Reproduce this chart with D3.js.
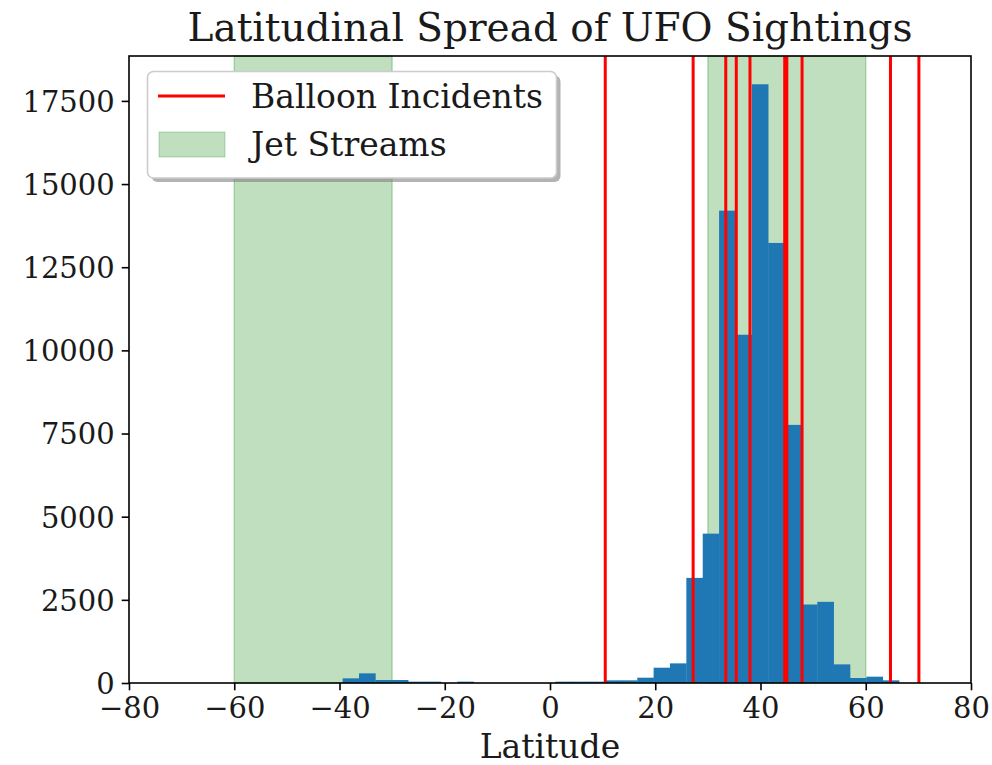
<!DOCTYPE html>
<html>
<head>
<meta charset="utf-8">
<script src="https://cdn.jsdelivr.net/npm/d3@7"></script>
<style>
  body { margin: 0; background: #fff; }
  svg text { font-family: "DejaVu Serif", serif; fill: #1a1a1a; }
</style>
</head>
<body>
<svg id="chart"></svg>
<script>
// histogram bin edges (latitude) and counts per bin
const binEdges = [-39.4, -36.29, -33.18, -30.07, -26.96, -23.85, -20.74, -17.63, -14.52, -11.41,
    -8.3, -5.19, -2.08, 1.03, 4.14, 7.25, 10.36, 13.47, 16.58, 19.69,
    22.8, 25.91, 29.02, 32.13, 35.24, 38.35, 41.46, 44.57, 47.68, 50.79,
    53.9, 57.01, 60.12, 63.23, 66.34];
const counts = [140, 290, 90, 90, 40, 40, 0, 40, 0, 0,
    0, 0, 0, 40, 40, 40, 80, 80, 160, 460,
    590, 3160, 4490, 14200, 10470, 18000, 13230, 7760, 2360, 2440,
    560, 150, 190, 80];
const balloonLat = [10.5, 27.2, 33.4, 35.4, 38.0, 44.6, 45.0, 47.9, 64.7, 70.1];
const jetStreams = [[-60, -30], [30, 60]];
const xTicks = [-80, -60, -40, -20, 0, 20, 40, 60, 80];
const yTicks = [0, 2500, 5000, 7500, 10000, 12500, 15000, 17500];

const width = 992;
const height = 765;
const margin = { left: 129, right: 21, top: 56, bottom: 82 };

const svg = d3.select("#chart")
    .attr("width", width)
    .attr("height", height);

const x = d3.scaleLinear().domain([-80, 80]).range([margin.left, width - margin.right]);
const y = d3.scaleLinear().domain([0, 18850]).range([height - margin.bottom, margin.top]);

const fmt = v => String(v).replace("-", "\u2212");

// jet stream bands
svg.append("g")
    .selectAll("rect")
    .data(jetStreams)
    .enter()
    .append("rect")
    .attr("x", d => x(d[0]))
    .attr("y", margin.top)
    .attr("width", d => x(d[1]) - x(d[0]))
    .attr("height", y(0) - margin.top)
    .attr("fill", "green")
    .attr("fill-opacity", 0.25)
    .attr("stroke", "green")
    .attr("stroke-opacity", 0.25)
    .attr("stroke-width", 1.5);

// histogram bars
const bins = counts.map((c, i) => ({ x0: binEdges[i], x1: binEdges[i + 1], count: c }));
svg.append("g")
    .selectAll("rect")
    .data(bins.filter(b => b.count > 0))
    .enter()
    .append("rect")
    .attr("x", d => x(d.x0))
    .attr("y", d => y(d.count))
    .attr("width", d => x(d.x1) - x(d.x0) + 0.3)
    .attr("height", d => y(0) - y(d.count))
    .attr("fill", "#1f77b4");

// balloon incidents
svg.append("g")
    .selectAll("line")
    .data(balloonLat)
    .enter()
    .append("line")
    .attr("x1", d => x(d))
    .attr("x2", d => x(d))
    .attr("y1", margin.top)
    .attr("y2", y(0))
    .attr("stroke", "red")
    .attr("stroke-width", 3);

// axes
const xAxis = svg.append("g")
    .attr("transform", `translate(0,${y(0)})`)
    .call(d3.axisBottom(x).tickValues(xTicks).tickFormat(fmt).tickSizeOuter(0).tickSize(7.3).tickPadding(6));
const yAxis = svg.append("g")
    .attr("transform", `translate(${margin.left},0)`)
    .call(d3.axisLeft(y).tickValues(yTicks).tickFormat(d => d).tickSizeOuter(0).tickSize(7.3).tickPadding(7));

[xAxis, yAxis].forEach(a => {
    a.select(".domain").remove();
    a.selectAll("line").attr("stroke", "#000").attr("stroke-width", 1.6);
    a.selectAll("text")
        .attr("font-size", 29)
        .attr("fill", "#1a1a1a")
        .style("font-family", "DejaVu Serif");
});
yAxis.selectAll("text").attr("dy", "0.36em");
xAxis.selectAll("text").attr("dy", "0.76em");

// frame
svg.append("rect")
    .attr("x", margin.left)
    .attr("y", margin.top)
    .attr("width", width - margin.right - margin.left)
    .attr("height", y(0) - margin.top)
    .attr("fill", "none")
    .attr("stroke", "#000")
    .attr("stroke-width", 1.6);

// title and label
svg.append("text")
    .attr("x", (margin.left + width - margin.right) / 2)
    .attr("y", 41)
    .attr("text-anchor", "middle")
    .attr("font-size", 39)
    .text("Latitudinal Spread of UFO Sightings");

svg.append("text")
    .attr("x", (margin.left + width - margin.right) / 2)
    .attr("y", 758)
    .attr("text-anchor", "middle")
    .attr("font-size", 33)
    .text("Latitude");

// legend
const lg = svg.append("g");
lg.append("rect")
    .attr("x", 151.5).attr("y", 75.5)
    .attr("width", 409).attr("height", 106.5)
    .attr("rx", 6)
    .attr("fill", "#808080")
    .attr("fill-opacity", 0.6);
lg.append("rect")
    .attr("x", 147.5).attr("y", 71.5)
    .attr("width", 409).attr("height", 106.5)
    .attr("rx", 6)
    .attr("fill", "#fff")
    .attr("stroke", "#cccccc")
    .attr("stroke-width", 1.6);
lg.append("line")
    .attr("x1", 158).attr("x2", 225)
    .attr("y1", 96).attr("y2", 96)
    .attr("stroke", "red")
    .attr("stroke-width", 3);
lg.append("rect")
    .attr("x", 159).attr("y", 132)
    .attr("width", 66).attr("height", 25)
    .attr("fill", "green").attr("fill-opacity", 0.25)
    .attr("stroke", "green").attr("stroke-opacity", 0.25);
lg.append("text").attr("x", 251).attr("y", 108).attr("font-size", 33).text("Balloon Incidents");
lg.append("text").attr("x", 251).attr("y", 156).attr("font-size", 33).text("Jet Streams");
</script>
</body>
</html>
